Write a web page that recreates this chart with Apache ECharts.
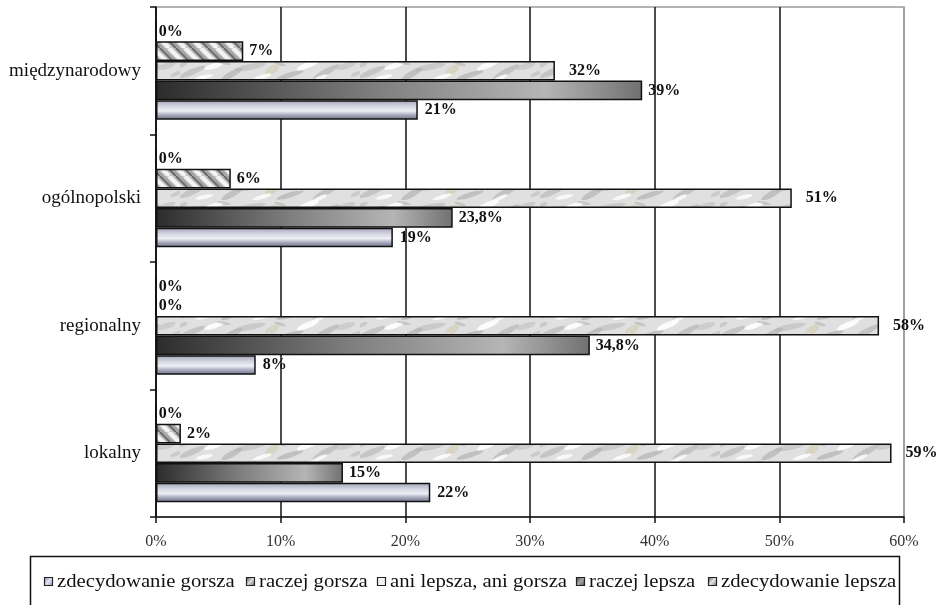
<!DOCTYPE html>
<html>
<head>
<meta charset="utf-8">
<script src="https://cdn.jsdelivr.net/npm/echarts@6/dist/echarts.min.js"></script>
<style>
  html, body { margin: 0; padding: 0; background: #fff; }
  #chart { width: 944px; height: 605px; }
</style>
</head>
<body>
<div id="chart"></div>
<script>
// Categories, bottom to top
const categories = ['lokalny', 'regionalny', 'ogólnopolski', 'międzynarodowy'];

// Series names (legend order)
const seriesNames = ['zdecydowanie gorsza', 'raczej gorsza', 'ani lepsza, ani gorsza', 'raczej lepsza', 'zdecydowanie lepsza'];

// Values in percent, per category (lokalny, regionalny, ogólnopolski, międzynarodowy)
const zdecydowanieGorsza = [22, 8, 19, 21];
const raczejLepsza = [15, 34.8, 23.8, 39];
const aniLepszaAniGorsza = [59, 58, 51, 32];
const raczejGorsza = [2, 0, 6, 7];
const zdecydowanieLepsza = [0, 0, 0, 0];

// X axis range and step (percent)
const xMin = 0, xMax = 60, xStep = 10;

const SERIF = 'Liberation Serif';

// Mottled marble-like texture for the neutral answer
function marbleTexture() {
  const c = document.createElement('canvas');
  c.width = 180; c.height = 20;
  const g = c.getContext('2d');
  g.fillStyle = '#e0e0e0';
  g.fillRect(0, 0, 180, 20);
  const blots = [
    [12, 12, 14, 3, -0.4, 'rgba(170,170,170,0.5)'], [34, 6, 10, 2.5, -0.3, 'rgba(255,255,255,0.9)'],
    [52, 14, 12, 3, -0.5, 'rgba(155,155,155,0.45)'], [70, 7, 16, 3, -0.2, 'rgba(180,180,180,0.5)'],
    [92, 10, 8, 4, -0.6, 'rgba(205,198,160,0.45)'], [110, 15, 14, 2.5, -0.3, 'rgba(160,160,160,0.5)'],
    [128, 5, 12, 3, -0.4, 'rgba(255,255,255,0.9)'], [146, 12, 15, 3, -0.5, 'rgba(165,165,165,0.5)'],
    [166, 6, 10, 3, -0.3, 'rgba(185,185,185,0.5)'], [24, 17, 9, 2, -0.2, 'rgba(255,255,255,0.8)'],
    [82, 17, 10, 2, -0.3, 'rgba(255,255,255,0.8)'], [140, 18, 8, 2, -0.4, 'rgba(255,255,255,0.8)'],
    [2, 5, 6, 2, -0.4, 'rgba(175,175,175,0.45)'], [176, 14, 6, 2, -0.4, 'rgba(175,175,175,0.45)'],
    [44, 3, 7, 1.5, 0.2, 'rgba(150,150,150,0.35)'], [100, 4, 6, 1.5, 0.3, 'rgba(150,150,150,0.35)']
  ];
  blots.forEach(function (b) {
    g.fillStyle = b[5];
    g.beginPath();
    g.ellipse(b[0], b[1], b[2], b[3], b[4], 0, Math.PI * 2);
    g.fill();
  });
  return c;
}

// Soft diagonal striped texture
function stripeTexture() {
  const s = 16;
  const c = document.createElement('canvas');
  c.width = s; c.height = s;
  const g = c.getContext('2d');
  g.fillStyle = '#c4c4c4';
  g.fillRect(0, 0, s, s);
  for (let k = -2; k <= 2; k++) {
    const x0 = k * s;
    g.strokeStyle = 'rgba(80,80,80,0.75)';
    g.lineWidth = 2.5;
    g.beginPath(); g.moveTo(x0, 0); g.lineTo(x0 + s, s); g.stroke();
    g.strokeStyle = '#a5a5a5';
    g.lineWidth = 2.5;
    g.beginPath(); g.moveTo(x0 + 3, 0); g.lineTo(x0 + 3 + s, s); g.stroke();
    g.strokeStyle = '#f4f4f4';
    g.lineWidth = 4;
    g.beginPath(); g.moveTo(x0 + 9, 0); g.lineTo(x0 + 9 + s, s); g.stroke();
  }
  return c;
}

const blueFill = new echarts.graphic.LinearGradient(0, 0, 0, 1, [
  { offset: 0, color: '#a0a2b6' },
  { offset: 0.3, color: '#d2d3e0' },
  { offset: 0.55, color: '#eeeef4' },
  { offset: 0.8, color: '#999bb1' },
  { offset: 1, color: '#76788e' }
]);
const darkFill = new echarts.graphic.LinearGradient(0, 0, 1, 0, [
  { offset: 0, color: '#2c2c2c' },
  { offset: 0.45, color: '#7e7e7e' },
  { offset: 0.8, color: '#b5b5b5' },
  { offset: 1, color: '#707070' }
]);
const grayFill = new echarts.graphic.LinearGradient(0, 0, 1, 1, [
  { offset: 0, color: '#4a4a4a' },
  { offset: 0.5, color: '#e6e6e6' },
  { offset: 1, color: '#6a6a6a' }
]);
const marbleFill = { image: marbleTexture(), repeat: 'repeat' };
const stripeFill = { image: stripeTexture(), repeat: 'repeat' };

// Swatches for the legend keys
const legendSwatch = [
  new echarts.graphic.LinearGradient(0, 0, 1, 1, [
    { offset: 0, color: '#7d88b8' }, { offset: 0.5, color: '#dfe3f2' }, { offset: 1, color: '#8c96c0' }
  ]),
  new echarts.graphic.LinearGradient(0, 0, 1, 1, [
    { offset: 0, color: '#444' }, { offset: 0.5, color: '#ddd' }, { offset: 1, color: '#555' }
  ]),
  '#f2f2f2',
  new echarts.graphic.LinearGradient(0, 0, 1, 1, [
    { offset: 0, color: '#3a3a3a' }, { offset: 0.5, color: '#a8a8a8' }, { offset: 1, color: '#4a4a4a' }
  ]),
  grayFill
];

const fmt = function (p) { return String(p.value).replace('.', ',') + '%'; };

function barSeries(name, values, fill, dist) {
  return {
    name: name,
    type: 'bar',
    // zero-length bars keep their label right at the axis
    data: values.map(function (v) {
      return v === 0 ? { value: v, label: { distance: 2 } } : v;
    }),
    barGap: '0%',
    barCategoryGap: '23%',
    itemStyle: { color: fill, borderColor: '#111', borderWidth: 1.5 },
    label: {
      show: true,
      position: 'right',
      distance: dist,
      formatter: fmt,
      fontFamily: SERIF,
      fontWeight: 'bold',
      fontSize: 16,
      color: '#111'
    },
    emphasis: { disabled: true }
  };
}

// Top-to-bottom order within each category
const series = [
  barSeries(seriesNames[4], zdecydowanieLepsza, grayFill, 2),
  barSeries(seriesNames[1], raczejGorsza, stripeFill, 6),
  barSeries(seriesNames[2], aniLepszaAniGorsza, marbleFill, 14),
  barSeries(seriesNames[3], raczejLepsza, darkFill, 6),
  barSeries(seriesNames[0], zdecydowanieGorsza, blueFill, 7)
];

// Boxed key strip under the axis
const legendLefts = [44, 246, 377, 576, 708];
const keyItems = [{
  type: 'rect',
  shape: { x: 30.5, y: 556.5, width: 869, height: 60 },
  style: { fill: 'none', stroke: '#111', lineWidth: 1.5 },
  silent: true
}];
seriesNames.forEach(function (n, i) {
  const x = legendLefts[i];
  keyItems.push({
    type: 'rect',
    shape: { x: x + 0.5, y: 577.5, width: 8, height: 8 },
    style: { fill: legendSwatch[i], stroke: '#222', lineWidth: 1.2 },
    silent: true
  });
  keyItems.push({
    type: 'text',
    x: x + 13,
    y: 582,
    scaleX: 1.15,
    style: {
      text: n, fontFamily: SERIF, fontSize: 18, fill: '#111',
      verticalAlign: 'middle', align: 'left'
    },
    silent: true
  });
});

const chart = echarts.init(document.getElementById('chart'), null, { renderer: 'canvas' });
chart.setOption({
  animation: false,
  backgroundColor: '#fff',
  textStyle: { fontFamily: SERIF },
  grid: {
    left: 156, right: 40, top: 7, bottom: 88,
    show: true, borderColor: '#9a9a9a', borderWidth: 1.5, backgroundColor: 'transparent'
  },
  xAxis: {
    type: 'value',
    min: xMin, max: xMax, interval: xStep,
    axisLine: { show: true, lineStyle: { color: '#111', width: 1.5 } },
    axisTick: { show: true, length: 6, lineStyle: { color: '#111', width: 1.5 } },
    axisLabel: { formatter: '{value}%', fontFamily: SERIF, fontSize: 16, color: '#333', margin: 17 },
    splitLine: { show: true, lineStyle: { color: ['#111', '#111', '#111', '#111', '#111', '#111', '#9a9a9a'], width: 1.5 } }
  },
  yAxis: {
    type: 'category',
    data: categories,
    axisLine: { show: true, lineStyle: { color: '#111', width: 1.5 } },
    axisTick: { show: true, length: 6, lineStyle: { color: '#111', width: 1.5 } },
    axisLabel: { fontFamily: SERIF, fontSize: 19, color: '#111', margin: 15 },
    splitLine: { show: false }
  },
  graphic: keyItems,
  series: series
});
</script>
</body>
</html>
